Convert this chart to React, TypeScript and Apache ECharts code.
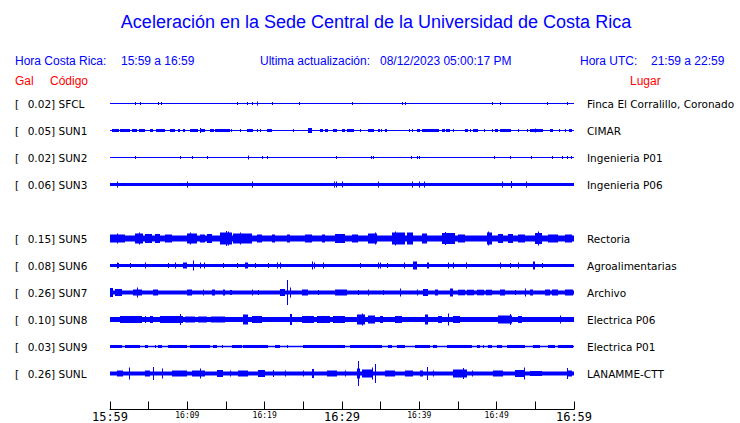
import React, { useEffect, useRef } from "react";
import * as echarts from "echarts";

// Station table
const stations = ["SFCL", "SUN1", "SUN2", "SUN3", "SUN5", "SUN6", "SUN7", "SUN8", "SUN9", "SUNL"];
const peakGal = ["0.02", "0.05", "0.02", "0.06", "0.15", "0.08", "0.26", "0.10", "0.03", "0.26"];
const places = [
  "Finca El Corralillo, Coronado",
  "CIMAR",
  "Ingenieria P01",
  "Ingenieria P06",
  "Rectoria",
  "Agroalimentarias",
  "Archivo",
  "Electrica P06",
  "Electrica P01",
  "LANAMME-CTT",
];
const rowSlots = [0, 1, 2, 3, 5, 6, 7, 8, 9, 10];
// baseline half-amplitude of each trace (trace units)
const baseAmp = [0.5, 0.5, 0.5, 1.5, 3, 1.5, 2, 2.5, 0.75, 2];

// time axis: minutes after 15:59
const tickLabels: Record<number, [string, string]> = {
  0: ["15:59", "big"],
  10: ["16:09", "small"],
  20: ["16:19", "small"],
  30: ["16:29", "big"],
  40: ["16:39", "small"],
  50: ["16:49", "small"],
  60: ["16:59", "big"],
};

// bursts: [start minute, end minute, half-amplitude]
const sfclBursts = [
  [3.2, 3.2, 1.5], [3.9, 3.9, 1.5], [6.25, 6.25, 1.5], [6.55, 6.55, 1.5], [16.4, 16.4, 1.5],
  [17.7, 17.7, 1.5], [18.3, 18.3, 1.5], [19.0, 19.0, 2], [20.9, 20.9, 1.5], [24.4, 24.4, 1.5],
  [31.25, 31.25, 1.5], [37.7, 37.7, 1.5], [38.1, 38.1, 1.5], [49.4, 49.4, 1.5], [50.4, 50.4, 1.5],
  [56.5, 56.5, 1.5], [59.05, 59.05, 1.5],
];
const sun1Bursts = [
  [0.2, 1.1, 1.5], [1.3, 2.6, 1.5], [2.8, 3.5, 1.5], [3.7, 4.5, 1.5], [5.2, 5.6, 1.5], [6.0, 7.1, 1.5],
  [7.8, 8.4, 1.5], [8.8, 9.05, 1.5], [9.5, 9.7, 1.5], [10.3, 11.4, 1.5], [11.6, 12.3, 1.5], [11.64, 11.64, 2.5],
  [12.9, 13.4, 1.5], [13.6, 15.5, 1.5], [15.7, 15.7, 1.5], [16.8, 16.8, 1.5], [17.7, 18.5, 1.5],
  [19.0, 19.0, 1.5], [19.4, 19.4, 1.5], [20.3, 20.9, 1.5], [23.7, 23.7, 1.5], [25.6, 26.1, 2.5],
  [27.2, 27.6, 1.5], [27.8, 28.2, 1.5], [28.9, 29.3, 1.5], [30.0, 30.4, 1.5], [30.6, 31.5, 1.5],
  [32.3, 32.3, 1.5], [33.4, 34.1, 1.5], [34.7, 34.9, 1.5], [35.1, 35.1, 1.5], [35.6, 35.8, 1.5],
  [38.6, 38.6, 1.5], [39.0, 39.0, 1.5], [39.7, 40.1, 1.5], [40.3, 42.5, 1.5], [42.9, 43.3, 1.5],
  [43.5, 44.0, 1.5], [44.4, 44.4, 1.5], [45.9, 46.3, 1.5], [46.6, 46.6, 1.5], [47.0, 47.6, 1.5],
  [48.3, 48.3, 1.5], [49.4, 49.4, 1.5], [49.8, 50.2, 1.5], [50.4, 51.9, 1.5], [52.8, 52.8, 1.5],
  [53.9, 53.9, 1.5], [54.3, 56.0, 1.5], [54.9, 54.9, 2], [56.9, 57.3, 1.5], [58.0, 58.0, 1.5],
  [58.8, 58.8, 1.5], [59.3, 59.7, 1.5],
];
const sun2Bursts = [
  [3.2, 3.2, 1.5], [9.05, 9.05, 1.5], [10.56, 10.56, 1.5], [12.5, 12.5, 1.5], [17.9, 17.9, 2],
  [19.6, 19.6, 1.5], [20.3, 20.3, 1.5], [29.2, 29.2, 1.5], [33.8, 33.8, 1.5], [34.05, 34.05, 1.5],
  [38.9, 38.9, 1.5], [39.7, 39.7, 1.5], [40.0, 40.0, 1.5], [49.6, 49.6, 1.5], [51.7, 51.7, 1.5],
  [54.5, 54.5, 1.5], [57.2, 57.2, 1.5], [58.5, 58.5, 1.5], [59.05, 59.05, 1.5], [59.6, 59.6, 1.5],
];
const sun3Bursts = [
  [0.86, 0.86, 3], [9.9, 9.9, 3], [18.4, 18.4, 3], [29.0, 29.0, 3], [29.2, 29.2, 3], [30.0, 30.0, 3],
  [34.6, 34.6, 3], [39.0, 39.0, 3], [40.0, 40.0, 3], [40.6, 40.6, 3], [50.7, 50.7, 3], [51.8, 51.8, 3.5],
  [53.75, 53.75, 3],
];
const sun5Bursts = [
  [0, 1.94, 4], [0.9, 0.9, 5], [3.23, 4.31, 5], [3.7, 3.7, 6], [4.53, 5.39, 4.5], [5.82, 6.47, 4.5],
  [7.11, 7.97, 4], [9.91, 11.2, 5], [10.4, 10.4, 6], [11.64, 12.28, 4], [12.5, 13.15, 4.5],
  [14.22, 15.73, 6], [14.96, 14.96, 7.5], [15.2, 15.2, 7], [15.95, 18.32, 5], [16.8, 16.8, 6],
  [18.97, 19.61, 4], [20.9, 21.34, 4], [22.84, 23.28, 4], [25.22, 26.08, 4], [27.4, 27.8, 4],
  [29.09, 30.39, 4.5], [31.25, 32.11, 4], [33.41, 34.48, 5], [34.27, 34.27, 6], [36.42, 38.15, 6],
  [36.85, 36.85, 7], [38.36, 39.22, 6], [40.3, 40.95, 5], [42.89, 44.61, 5.5], [43.3, 43.3, 6.5],
  [45.04, 45.91, 4], [48.71, 49.35, 6], [48.9, 48.9, 7], [50.22, 50.86, 4.5], [51.51, 52.16, 4.5],
  [52.8, 53.66, 4], [54.96, 55.82, 5.5], [55.39, 55.39, 7], [56.68, 57.97, 4], [58.84, 59.7, 4],
];
const sun6Bursts = [
  [0.86, 0.86, 3], [1.08, 1.08, 2.5], [2.59, 2.59, 2.5], [4.53, 4.53, 3], [7.54, 7.54, 2.5],
  [8.41, 8.41, 3], [9.48, 9.91, 3], [10.78, 10.78, 5], [11.64, 11.64, 3], [12.2, 12.2, 3],
  [14.66, 14.66, 2.5], [16.38, 16.38, 2.5], [17.46, 17.89, 3], [18.75, 18.75, 2.5], [20.47, 20.47, 2.5],
  [21.55, 21.55, 3], [21.98, 21.98, 3], [26.16, 26.16, 4], [26.42, 26.42, 3], [27.59, 27.59, 3],
  [32.33, 32.33, 2.5], [34.61, 34.61, 3], [34.91, 34.91, 3], [35.78, 35.78, 2.5], [38.06, 38.06, 3],
  [39.22, 39.66, 4], [40.95, 40.95, 3], [41.16, 41.16, 3], [43.75, 43.75, 3], [44.4, 44.4, 3],
  [46.03, 46.03, 3], [50.43, 50.43, 3], [51.72, 51.72, 2.5], [52.72, 52.72, 3], [54.74, 54.96, 4],
  [55.91, 55.91, 2.5],
];
const sun7Bursts = [
  [0, 0.43, 4.5], [0.65, 1.51, 3.5], [3.0, 4.1, 3], [3.45, 3.66, 5], [5.6, 6.25, 3], [9.91, 10.56, 3],
  [12.07, 12.07, 3], [13.15, 13.58, 3], [14.66, 14.87, 3], [15.52, 15.73, 2.5], [18.32, 18.53, 3],
  [19.18, 19.18, 2.5], [21.98, 22.63, 3.5], [22.84, 23.06, 7], [22.93, 22.93, 12.5], [23.28, 23.28, 5],
  [24.78, 25.65, 3], [26.94, 26.94, 2.5], [29.09, 30.6, 3], [32.11, 32.11, 2.5], [33.41, 33.41, 3],
  [35.34, 35.34, 2.5], [37.5, 37.5, 4], [39.66, 39.66, 3], [40.52, 41.16, 3.5], [42.03, 42.46, 3],
  [43.97, 44.4, 4], [45.0, 45.9, 2.8], [46.2, 47.1, 2.8], [47.4, 48.3, 2.8], [48.6, 49.35, 2.8],
  [50.43, 51.08, 3], [52.37, 52.37, 2.5], [53.66, 53.66, 4], [54.31, 54.74, 3], [56.25, 56.9, 3],
  [57.2, 57.97, 3], [58.84, 59.91, 3],
];
const sun8Bursts = [
  [1.29, 4.09, 3.5], [4.53, 4.53, 3.5], [5.17, 5.6, 3.5], [6.47, 9.48, 3.5], [9.05, 9.05, 5.5],
  [9.7, 11.0, 3], [11.4, 12.6, 3], [13.0, 14.87, 3], [17.24, 17.89, 5], [18.32, 19.61, 3.5],
  [23.28, 23.49, 5.5], [24.78, 26.4, 3.5], [26.8, 28.5, 3.5], [28.9, 30.39, 3.5], [31.9, 32.97, 5],
  [32.54, 32.54, 6], [33.41, 34.27, 4], [34.91, 35.34, 3.5], [36.85, 37.72, 3.5], [40.73, 41.16, 5],
  [42.46, 42.89, 3.5], [43.75, 43.75, 6], [44.4, 45.26, 3.5], [50.22, 51.94, 4], [51.72, 51.72, 5.5],
  [52.8, 53.23, 3.5], [58.19, 58.19, 4],
];
const sun9Bursts = [
  [0, 1.51, 1.5], [1.94, 3.88, 1.5], [4.53, 4.96, 1.5], [5.82, 5.82, 1.5], [6.25, 6.68, 1.5],
  [7.54, 9.91, 1.5], [10.34, 12.93, 1.5], [13.36, 13.79, 1.5], [14.44, 14.66, 1.5], [15.73, 17.03, 1.5],
  [17.24, 20.47, 1.5], [21.34, 21.98, 1.5], [22.84, 22.84, 1.5], [25.0, 30.39, 1.5], [31.03, 35.13, 1.5],
  [35.99, 36.42, 1.5], [37.07, 38.15, 1.5], [39.44, 41.38, 1.5], [41.81, 42.24, 1.5], [43.53, 46.77, 1.5],
  [47.41, 47.84, 1.5], [48.28, 48.28, 1.5], [48.92, 49.35, 1.5], [50.0, 50.65, 1.5], [51.29, 53.66, 1.5],
  [54.74, 55.6, 1.5], [56.68, 57.54, 1.5], [57.97, 59.91, 1.5],
];
const sunlBursts = [
  [0.86, 1.72, 3], [2.46, 2.46, 6], [4.53, 5.17, 3], [5.6, 5.6, 6.5], [6.68, 6.9, 5], [7.97, 9.91, 3],
  [10.65, 12.28, 3], [11.64, 11.64, 5], [13.79, 14.66, 3.5], [15.52, 15.52, 3], [16.59, 17.89, 3],
  [19.18, 20.04, 3.5], [21.12, 21.12, 3.5], [22.63, 22.63, 3], [25.0, 25.0, 3], [26.16, 26.42, 4.5],
  [28.02, 29.31, 3], [30.39, 30.39, 3], [31.9, 32.33, 5], [32.11, 32.11, 12.5], [32.54, 33.84, 4],
  [33.84, 33.84, 6], [34.27, 34.27, 9.5], [35.56, 36.85, 3], [38.15, 39.22, 3], [40.09, 40.52, 3],
  [41.03, 41.03, 6.5], [41.81, 41.81, 3], [44.4, 46.12, 4], [45.7, 45.7, 5.5], [46.77, 46.77, 3],
  [49.57, 50.86, 3], [52.37, 53.66, 3.5], [53.58, 53.58, 6], [54.31, 55.82, 2.5], [59.05, 59.05, 5.5],
  [59.27, 59.7, 3],
];
const traceBursts = [
  sfclBursts, sun1Bursts, sun2Bursts, sun3Bursts, sun5Bursts,
  sun6Bursts, sun7Bursts, sun8Bursts, sun9Bursts, sunlBursts,
];

const ROW_UNITS = 27; // trace units per row
const BLUE = "#0000ff";
const RED = "#ff0000";
const HEAD_FONT = "'Liberation Sans', Arial, sans-serif";
const LABEL_FONT = "'DejaVu Sans', sans-serif";

export default function App() {
  const ref = useRef<HTMLDivElement>(null);

  useEffect(() => {
    if (!ref.current) return;
    const chart = echarts.init(ref.current, undefined, { renderer: "svg" });

    const traceData: number[][] = [];
    stations.forEach((_, i) => {
      traceData.push([0, 60, rowSlots[i], baseAmp[i]]);
      traceBursts[i].forEach((b) => traceData.push([b[0], b[1], rowSlots[i], b[2]]));
    });

    const rowLabel = (v: number, fn: (i: number) => string) => {
      const r = Math.round(v);
      if (Math.abs(v - r) > 1e-6) return "";
      const i = rowSlots.indexOf(r);
      return i < 0 ? "" : fn(i);
    };

    const yCommon = {
      type: "value" as const,
      inverse: true,
      min: -0.5,
      max: 11 + 1 / 3,
      interval: 0.5,
      axisLine: { show: false },
      axisTick: { show: false },
      splitLine: { show: false },
    };

    chart.setOption({
      animation: false,
      backgroundColor: "#ffffff",
      grid: { left: 110, right: 166, top: 90, bottom: 13.5 },
      xAxis: {
        type: "value",
        position: "bottom",
        min: 0,
        max: 60,
        interval: 5,
        axisLine: { show: true, onZero: false, lineStyle: { color: "#000", width: 1 } },
        axisTick: { show: true, inside: true, length: 8, lineStyle: { color: "#000" } },
        splitLine: { show: false },
        axisLabel: {
          margin: 1,
          color: "#000",
          formatter: (v: number) => {
            const l = tickLabels[Math.round(v)];
            return l ? `{${l[1]}|${l[0]}}` : "";
          },
          rich: {
            big: { fontFamily: "'DejaVu Sans Mono', monospace", fontSize: 12, lineHeight: 13, color: "#000" },
            small: { fontFamily: "'DejaVu Sans Mono', monospace", fontSize: 8, lineHeight: 9, color: "#000" },
          },
        },
      },
      yAxis: [
        {
          ...yCommon,
          position: "left",
          axisLabel: {
            align: "left",
            margin: 95,
            color: "#000",
            fontFamily: LABEL_FONT,
            fontSize: 10.5,
            formatter: (v: number) =>
              rowLabel(v, (i) => `[\u2002\u00a0${peakGal[i]}] ${stations[i]}`),
          },
        },
        {
          ...yCommon,
          position: "right",
          axisLabel: {
            align: "left",
            margin: 13,
            color: "#000",
            fontFamily: LABEL_FONT,
            fontSize: 10.5,
            formatter: (v: number) => rowLabel(v, (i) => places[i]),
          },
        },
      ],
      series: [
        {
          type: "custom",
          xAxisIndex: 0,
          yAxisIndex: 0,
          encode: { x: [0, 1], y: [2] },
          data: traceData,
          renderItem: (_p: any, api: any) => {
            const t0 = api.value(0);
            const t1 = api.value(1);
            const row = api.value(2);
            const amp = api.value(3) / ROW_UNITS;
            const a = api.coord([t0, row - amp]);
            const b = api.coord([t1, row + amp]);
            const x = Math.round(a[0]);
            const w = Math.max(1, Math.round(b[0]) - x);
            const y = Math.min(a[1], b[1]);
            const h = Math.max(1, Math.abs(b[1] - a[1]));
            return {
              type: "rect",
              shape: { x, y, width: w, height: h },
              style: { fill: BLUE },
            };
          },
        },
      ],
      graphic: [
        {
          type: "text",
          x: 376,
          y: 22,
          style: {
            text: "Aceleración en la Sede Central de la Universidad de Costa Rica",
            font: `18px ${HEAD_FONT}`,
            fill: BLUE,
            textAlign: "center",
            textVerticalAlign: "middle",
          },
        },
        ...[
          ["Hora Costa Rica:", 15, 61, BLUE],
          ["15:59 a 16:59", 121, 61, BLUE],
          ["Ultima actualización:", 260, 61, BLUE],
          ["08/12/2023 05:00:17 PM", 380, 61, BLUE],
          ["Hora UTC:", 580, 61, BLUE],
          ["21:59 a 22:59", 651, 61, BLUE],
          ["Gal", 15, 81, RED],
          ["Código", 50, 81, RED],
          ["Lugar", 630, 81, RED],
        ].map(([text, x, y, color]) => ({
          type: "text",
          x,
          y,
          style: {
            text,
            font: `12px ${HEAD_FONT}`,
            fill: color,
            textAlign: "left",
            textVerticalAlign: "middle",
          },
        })),
      ],
    });

    return () => chart.dispose();
  }, []);

  return (
    <div
      ref={ref}
      style={{ position: "fixed", left: 0, top: 0, width: 740, height: 423, background: "#fff" }}
    />
  );
}
